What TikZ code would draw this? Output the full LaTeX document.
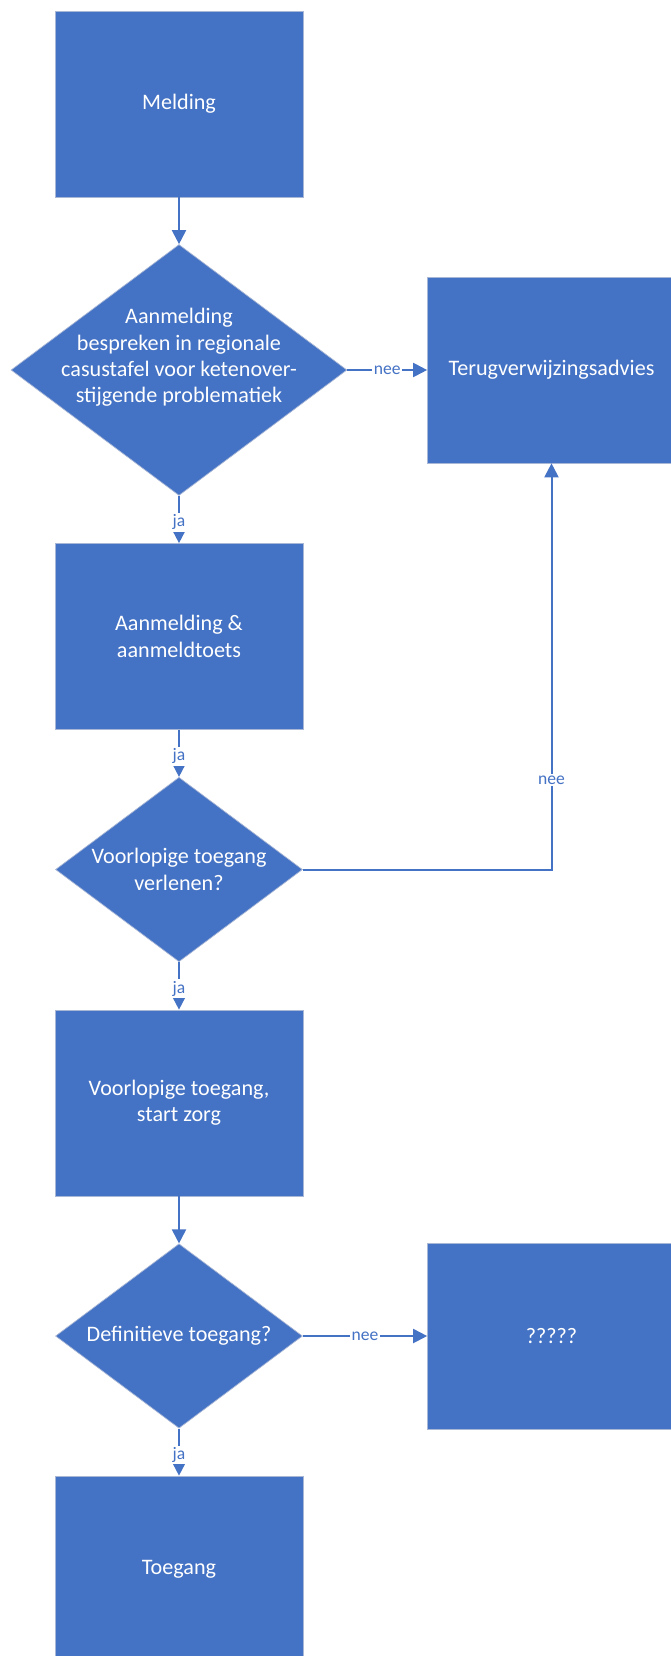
\documentclass[tikz,border=0pt]{standalone}
\usepackage{fontspec}
\setmainfont{Carlito}
\usetikzlibrary{shapes.geometric,arrows.meta}
\definecolor{officeblue}{HTML}{4472C4}
\definecolor{boxline}{HTML}{A9B7D6}
\tikzset{
  stepbox/.style={rectangle, fill=officeblue, draw=boxline, line width=0.4pt,
    minimum width=4.96cm, minimum height=3.72cm, inner sep=0pt,
    text=white, font=\fontsize{12.6}{15}\selectfont, align=center},
  decision/.style={diamond, fill=officeblue, draw=boxline, line width=0.4pt, inner sep=0pt},
  boxtext/.style={text=white, font=\fontsize{12.6}{15}\selectfont, align=center},
  flow/.style={draw=officeblue, line width=0.04cm, -{Triangle[width=0.28cm,length=0.28cm]}},
  lbl/.style={text=officeblue, font=\fontsize{10}{11}\selectfont, fill=white, inner sep=1pt}
}
\begin{document}
\begin{tikzpicture}[x=0.02cm, y=-0.02cm]
  \useasboundingbox (0,0) rectangle (671,1656);

  %main column
  \node[stepbox] (melding) at (179,104) {Melding};
  \node[decision, minimum width=6.72cm, minimum height=5.02cm] (d1) at (179,370) {};
  \node[boxtext] (d1text) at ([yshift=0.25cm]d1.center) {Aanmelding\\bespreken in regionale\\casustafel voor ketenover-\\stijgende problematiek};
  \node[stepbox] (aanmelding) at (179,636.5) {Aanmelding \&\\aanmeldtoets};
  \node[decision, minimum width=4.94cm, minimum height=3.69cm] (d2) at (179,869.5) {};
  \node[boxtext] (d2text) at (d2.center) {Voorlopige toegang\\verlenen?};
  \node[stepbox] (voorlopig) at (179,1103) {Voorlopige toegang,\\start zorg};
  \node[decision, minimum width=4.94cm, minimum height=3.69cm] (d3) at (179,1336) {};
  \node[boxtext] (d3text) at (d3.center) {Definitieve toegang?};
  \node[stepbox] (toegang) at (179,1569) {Toegang};

  %right column
  \node[stepbox] (terug) at (551.5,370) {Terugverwijzingsadvies};
  \node[stepbox] (vraag) at (551.5,1336) {?????};

  %connectors
  \draw[flow] (melding.south) -- (d1.north);
  \draw[flow] (d1.east) -- node[lbl] {nee} (terug.west);
  \draw[flow] (d1.south) -- node[lbl, pos=0.56] {ja} (aanmelding.north);
  \draw[flow] (aanmelding.south) -- node[lbl, pos=0.56] {ja} (d2.north);
  \draw[flow] (d2.east) -| node[lbl, pos=0.61] {nee} (terug.south);
  \draw[flow] (d2.south) -- node[lbl, pos=0.56] {ja} (voorlopig.north);
  \draw[flow] (voorlopig.south) -- (d3.north);
  \draw[flow] (d3.east) -- node[lbl] {nee} (vraag.west);
  \draw[flow] (d3.south) -- node[lbl, pos=0.56] {ja} (toegang.north);
\end{tikzpicture}
\end{document}
